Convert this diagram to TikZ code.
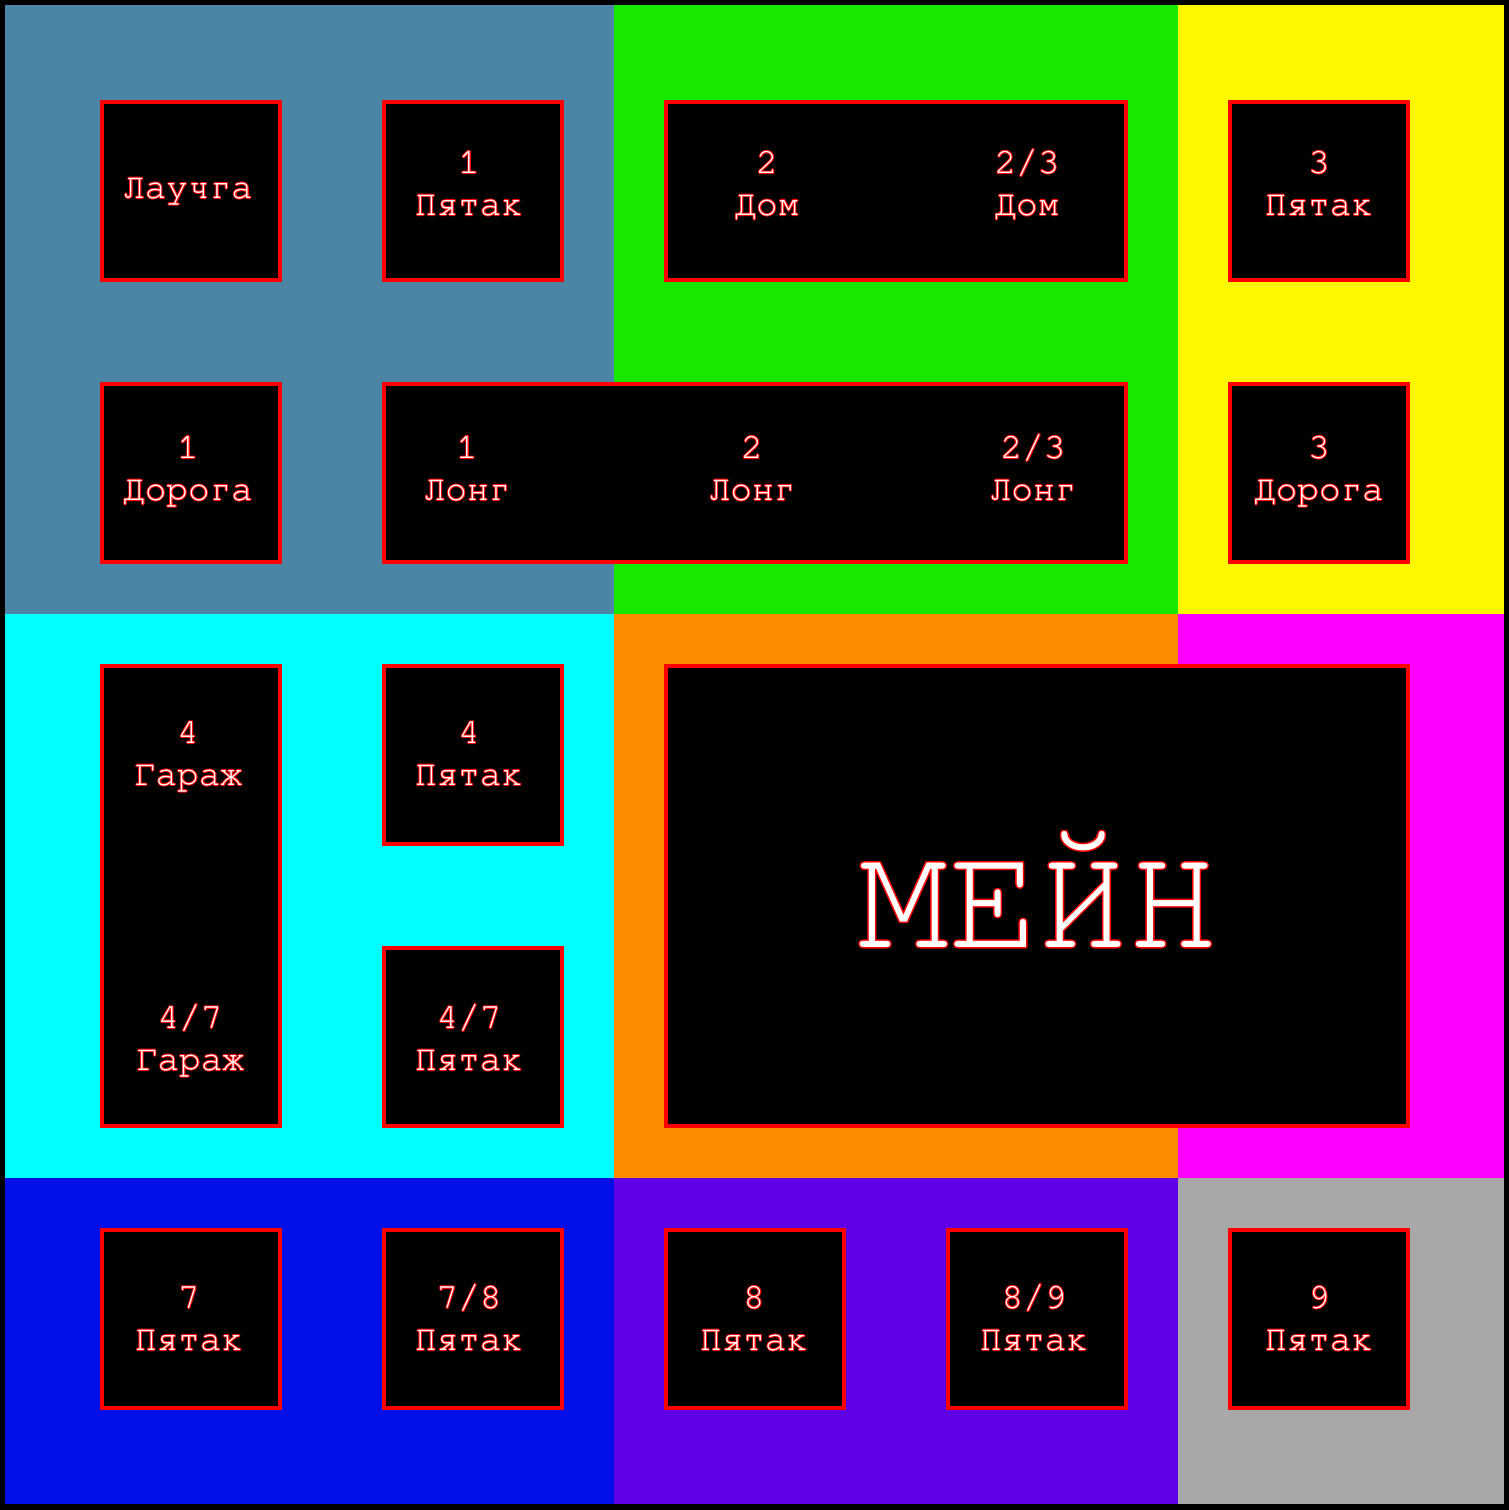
\documentclass[tikz,border=0pt]{standalone}
\usepackage{fontspec}
\newfontfamily\mono{FreeMono}
\definecolor{steel}{RGB}{76,132,165}
\definecolor{grn}{RGB}{22,232,0}
\definecolor{yel}{RGB}{255,247,0}
\definecolor{cyn}{RGB}{0,255,255}
\definecolor{org}{RGB}{255,140,0}
\definecolor{mag}{RGB}{255,0,255}
\definecolor{blu}{RGB}{0,16,230}
\definecolor{pur}{RGB}{96,0,230}
\definecolor{gry}{RGB}{168,168,168}
\newcommand\strk[3]{\special{pdf:literal direct #1 RG 2 Tr #2 w 1 j}#3\special{pdf:literal direct 0 Tr 0.4 w 0 j}}
\newcommand\ot[2][2.0]{\leavevmode\rlap{\textcolor{red}{\strk{1 0 0}{#1}{#2}}}\textcolor{white}{#2}}
\newcommand\twol[5]{\node[lbl] (#1a) at (#2,#3) {\ot{#4}};
  \node[lbl] (#1b) at (#2,#3+42) {\ot{#5}};}
\tikzset{
  box/.style={draw=red, fill=black, line width=4pt, inner sep=0pt, minimum width=178pt, minimum height=178pt},
  lbl/.style={anchor=base, inner sep=0pt, text=white, font=\mono\fontsize{36}{42}\selectfont}
}
\begin{document}
\begin{tikzpicture}[x=1pt,y=-1pt]
\useasboundingbox (0,0) rectangle (1509,1510);
\fill[black] (0,0) rectangle (1509,1510);
% cells
\fill[steel] (5,5) rectangle (614,614);
\fill[grn] (614,5) rectangle (1178,614);
\fill[yel] (1178,5) rectangle (1504,614);
\fill[cyn] (5,614) rectangle (614,1178);
\fill[org] (614,614) rectangle (1178,1178);
\fill[mag] (1178,614) rectangle (1504,1178);
\fill[blu] (5,1178) rectangle (614,1504);
\fill[pur] (614,1178) rectangle (1178,1504);
\fill[gry] (1178,1178) rectangle (1504,1504);
% boxes
\node[box] (b00) at (191,191) {};
\node[box] (b01) at (473,191) {};
\node[box, minimum width=460pt] (bdom) at (896,191) {};
\node[box] (b04) at (1319,191) {};
\node[box] (b10) at (191,473) {};
\node[box, minimum width=742pt] (blong) at (755,473) {};
\node[box] (b14) at (1319,473) {};
\node[box, minimum height=460pt] (bgar) at (191,896) {};
\node[box] (b21) at (473,755) {};
\node[box] (b31) at (473,1037) {};
\node[box, minimum width=742pt, minimum height=460pt] (bmain) at (1037,896) {};
\node[box] (b40) at (191,1319) {};
\node[box] (b41) at (473,1319) {};
\node[box] (b42) at (755,1319) {};
\node[box] (b43) at (1037,1319) {};
\node[box] (b44) at (1319,1319) {};
% labels
\node[lbl] (tlau) at (188,198) {\ot{Лаучга}};
\twol{t01}{469}{173}{1}{Пятак}
\twol{t02}{767}{173}{2}{Дом}
\twol{t03}{1027}{173}{2/3}{Дом}
\twol{t04}{1319}{173}{3}{Пятак}
\twol{t10}{188}{458}{1}{Дорога}
\twol{t11}{467}{458}{1}{Лонг}
\twol{t12}{752}{458}{2}{Лонг}
\twol{t13}{1033}{458}{2/3}{Лонг}
\twol{t14}{1319}{458}{3}{Дорога}
\twol{t20}{188}{743}{4}{Гараж}
\twol{t21}{469}{743}{4}{Пятак}
\twol{t30}{190}{1028}{4/7}{Гараж}
\twol{t31}{469}{1028}{4/7}{Пятак}
\twol{t40}{189}{1308}{7}{Пятак}
\twol{t41}{469}{1308}{7/8}{Пятак}
\twol{t42}{754}{1308}{8}{Пятак}
\twol{t43}{1034}{1308}{8/9}{Пятак}
\twol{t44}{1319}{1308}{9}{Пятак}
\node[anchor=base, inner sep=0pt, text=white, font=\mono\fontsize{150}{160}\selectfont] (tmain) at (1038,947) {\ot[3.0]{МЕЙН}};
\end{tikzpicture}
\end{document}
